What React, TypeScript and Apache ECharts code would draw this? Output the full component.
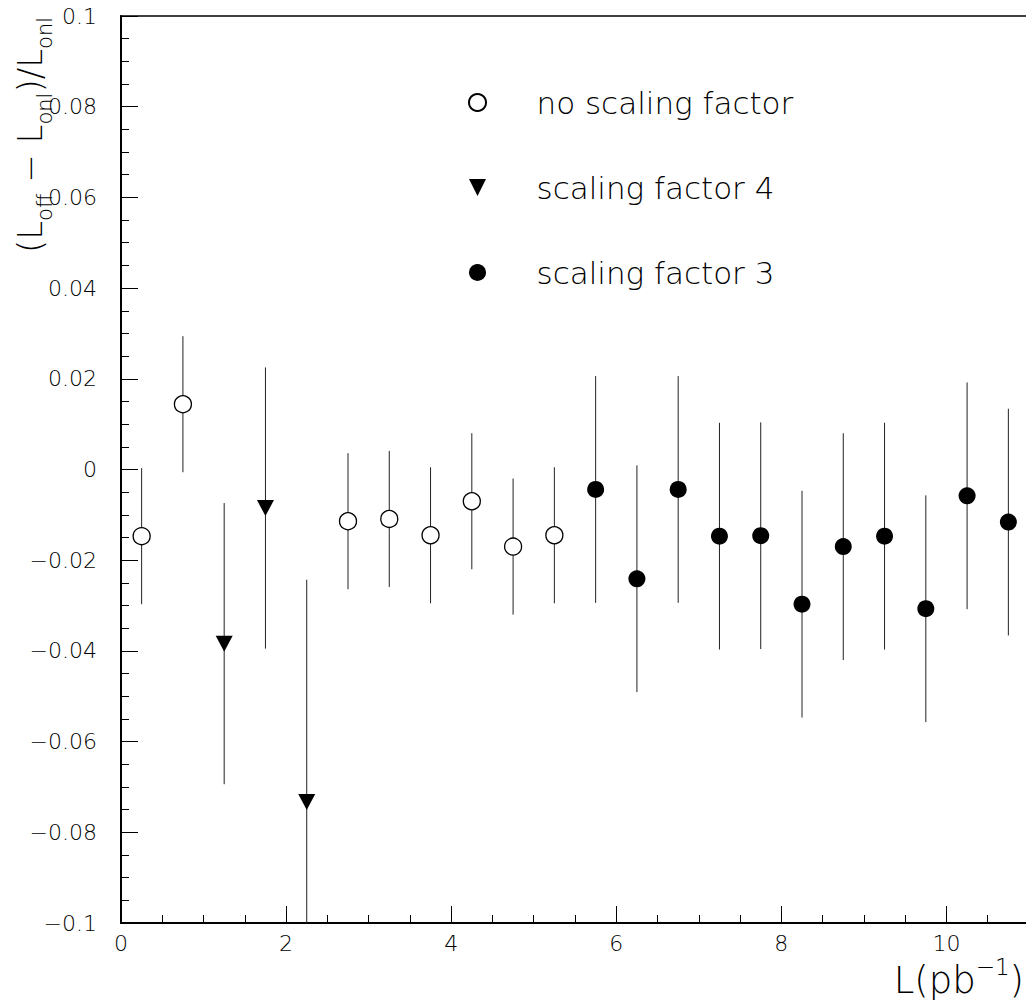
import React, { useEffect, useRef } from "react";
import * as echarts from "echarts";

// ---- data ----
const noScaleX = [0.25, 0.75, 2.75, 3.25, 3.75, 4.25, 4.75, 5.25];
const noScaleY = [-0.0147, 0.0144, -0.0114, -0.0109, -0.0145, -0.007, -0.017, -0.0145];
const noScaleErr = [0.015, 0.015, 0.015, 0.015, 0.015, 0.015, 0.015, 0.015];

const factor4X = [1.25, 1.75, 2.25];
const factor4Y = [-0.0384, -0.0085, -0.0733];
const factor4Err = [0.031, 0.031, 0.049];

const factor3X = [5.75, 6.25, 6.75, 7.25, 7.75, 8.25, 8.75, 9.25, 9.75, 10.25, 10.75];
const factor3Y = [-0.0044, -0.0241, -0.0044, -0.0147, -0.0146, -0.0297, -0.017, -0.0147, -0.0307, -0.0058, -0.0116];
const factor3Err = [0.025, 0.025, 0.025, 0.025, 0.025, 0.025, 0.025, 0.025, 0.025, 0.025, 0.025];

const seriesNames = ["no scaling factor", "scaling factor 4", "scaling factor 3"];

const xMin = 0;
const xMax = 11;
const xStep = 2;
const yMin = -0.1;
const yMax = 0.1;
const yStep = 0.02;

const FONT = "DejaVu Sans";
const WEIGHT = 200;
const INK = "#000";
const TRI_DOWN = "path://M0,0L10,0L5,10Z";

const zip = (xs: number[], ys: number[], es: number[]) => xs.map((x, i) => [x, ys[i], es[i]]);

function errorBars(name: string, data: number[][]) {
  return {
    type: "custom",
    name,
    clip: true,
    silent: true,
    z: 1,
    data,
    encode: { x: 0, y: 1 },
    renderItem: (_p: any, api: any) => {
      const x = api.value(0);
      const y = api.value(1);
      const e = api.value(2);
      const a = api.coord([x, y + e]);
      const b = api.coord([x, y - e]);
      return {
        type: "line",
        shape: { x1: a[0], y1: a[1], x2: b[0], y2: b[1] },
        style: { stroke: "#222", lineWidth: 1 },
      };
    },
  };
}

const fmtY = (v: number) => {
  if (Math.abs(v) < 1e-9) return "0";
  const s = parseFloat(Math.abs(v).toFixed(3)).toString();
  return (v < 0 ? "\u2212" : "") + s;
};

export default function App() {
  const ref = useRef<HTMLDivElement>(null);
  useEffect(() => {
    if (!ref.current) return;
    const chart = echarts.init(ref.current, null, { renderer: "svg" });
    const noScale = zip(noScaleX, noScaleY, noScaleErr);
    const f4 = zip(factor4X, factor4Y, factor4Err);
    const f3 = zip(factor3X, factor3Y, factor3Err);
    chart.setOption({
      animation: false,
      backgroundColor: "#fff",
      grid: {
        left: 121,
        top: 16,
        right: -3,
        bottom: 83,
        containLabel: false,
        outerBoundsMode: "none",
        show: true,
        borderColor: "#000",
        borderWidth: 1.5,
        backgroundColor: "transparent",
      },
      xAxis: {
        type: "value",
        min: xMin,
        max: xMax,
        interval: xStep,
        axisLine: { show: true, onZero: false, lineStyle: { color: "#000", width: 2 } },
        axisTick: { show: true, inside: true, length: 17, lineStyle: { color: "#000", width: 1 } },
        minorTick: { show: true, splitNumber: 4, length: 8, lineStyle: { color: "#000", width: 1 } },
        splitLine: { show: false },
        minorSplitLine: { show: false },
        axisLabel: {
          margin: 9,
          fontFamily: FONT,
          fontWeight: WEIGHT,
          fontSize: 22,
          color: INK,
          formatter: (v: number) => (Math.abs(v % xStep) < 1e-9 ? String(v) : ""),
        },
      },
      yAxis: {
        type: "value",
        min: yMin,
        max: yMax,
        interval: yStep,
        axisLine: { show: true, onZero: false, lineStyle: { color: "#000", width: 2 } },
        axisTick: { show: true, inside: true, length: 17, lineStyle: { color: "#000", width: 1 } },
        minorTick: { show: true, splitNumber: 4, length: 8, lineStyle: { color: "#000", width: 1 } },
        splitLine: { show: false },
        minorSplitLine: { show: false },
        axisLabel: {
          margin: 24,
          fontFamily: FONT,
          fontWeight: WEIGHT,
          fontSize: 22,
          color: INK,
          formatter: fmtY,
        },
      },
      legend: {
        orient: "vertical",
        left: 463,
        top: 82,
        itemWidth: 108,
        itemHeight: 17,
        itemGap: 54,
        selectedMode: false,
        textStyle: { fontFamily: FONT, fontWeight: WEIGHT, fontSize: 31, color: INK, lineHeight: 30 },
        data: [
          { name: seriesNames[0], icon: "circle" },
          { name: seriesNames[1], icon: TRI_DOWN },
          { name: seriesNames[2], icon: "circle" },
        ],
      },
      series: [
        errorBars("err0", noScale),
        errorBars("err1", f4),
        errorBars("err2", f3),
        {
          type: "scatter",
          name: seriesNames[0],
          data: noScale,
          symbol: "circle",
          symbolSize: 17,
          z: 3,
          itemStyle: { color: "#fff", borderColor: "#000", borderWidth: 1.3, opacity: 1 },
        },
        {
          type: "scatter",
          name: seriesNames[1],
          data: f4,
          symbol: TRI_DOWN,
          symbolSize: [17, 16],
          symbolKeepAspect: false,
          z: 3,
          itemStyle: { color: "#000", opacity: 1 },
        },
        {
          type: "scatter",
          name: seriesNames[2],
          data: f3,
          symbol: "circle",
          symbolSize: 17,
          z: 3,
          itemStyle: { color: "#000", opacity: 1 },
        },
      ],
      graphic: [
        {
          type: "text",
          x: 30,
          y: 135,
          rotation: Math.PI / 2,
          style: {
            text: "{m|(L}{s|off}{m| \u2212 L}{s|onl}{m|)/L}{s|onl}",
            align: "center",
            verticalAlign: "middle",
            rich: {
              m: { fontFamily: FONT, fontWeight: WEIGHT, fontSize: 34, lineHeight: 50, fill: INK },
              s: { fontFamily: FONT, fontWeight: WEIGHT, fontSize: 21, verticalAlign: "bottom", fill: INK },
            },
          },
        },
        {
          type: "text",
          x: 1024,
          y: 980,
          style: {
            text: "{m|L(pb}{s|\u22121}{m|)}",
            align: "right",
            verticalAlign: "middle",
            rich: {
              m: { fontFamily: FONT, fontWeight: WEIGHT, fontSize: 37, lineHeight: 50, fill: INK },
              s: { fontFamily: FONT, fontWeight: WEIGHT, fontSize: 23, verticalAlign: "top", fill: INK },
            },
          },
        },
      ],
    });
    return () => chart.dispose();
  }, []);
  return (
    <div
      ref={ref}
      style={{ position: "fixed", left: 0, top: 0, width: 1026, height: 1006, background: "#fff" }}
    />
  );
}
